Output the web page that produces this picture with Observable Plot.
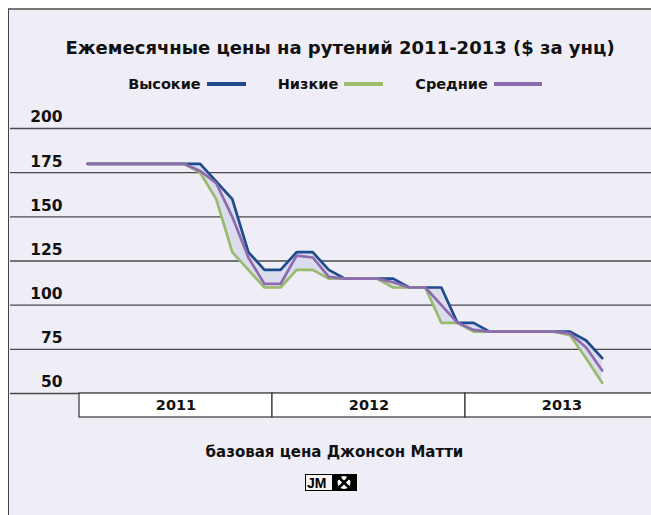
<!DOCTYPE html>
<html><head><meta charset="utf-8">
<script src="https://cdn.jsdelivr.net/npm/d3@7"></script>
<script src="https://cdn.jsdelivr.net/npm/@observablehq/plot@0.6"></script>
<style>
body{margin:0;background:#fff;}
#wrap{position:relative;width:651px;height:515px;overflow:hidden;background:#fff;font-family:"DejaVu Sans",sans-serif;font-weight:bold;color:#111;}
#frame{position:absolute;left:8px;top:8px;width:720px;height:600px;background:#efeef7;border-left:1.5px solid #444;border-top:2px solid #777;}
#title{position:absolute;top:37px;left:0;width:680px;text-align:center;font-size:18px;white-space:nowrap;}
#legend{position:absolute;top:76px;left:0;width:670px;display:flex;justify-content:center;align-items:center;font-size:14.5px;white-space:nowrap;}
#legend .sw{display:inline-block;width:39px;height:4px;margin-left:6px;margin-right:32px;}
#legend .sw.last{margin-right:0;width:48px;}
#chart{position:absolute;left:0;top:100px;}
#years{position:absolute;left:0;top:392px;}
#caption{position:absolute;top:443px;left:0;width:669px;text-align:center;font-size:15px;white-space:nowrap;}
#logo{position:absolute;left:305px;top:474px;width:52px;height:17px;}
</style></head>
<body>
<div id="wrap">
  <div id="frame"></div>
  <div id="title">Ежемесячные цены на рутений 2011-2013 ($ за унц)</div>
  <div id="legend"></div>
  <div id="chart"></div>
  <div id="years"></div>
  <div id="caption">базовая цена Джонсон Матти</div>
  <svg id="logo" width="52" height="17" viewBox="0 0 52 17">
    <rect x="0.5" y="0.5" width="51" height="16" fill="#f4f4f4" stroke="#000"/>
    <text x="2" y="13.5" font-family="Liberation Sans, Arial, sans-serif" font-size="14" fill="#000">JM</text>
    <rect x="27" y="0.5" width="24.5" height="16" fill="#000"/>
    <circle cx="39" cy="8.5" r="6.5" fill="#fff"/>
    <path d="M34.5 4 L43.5 13 M43.5 4 L34.5 13" stroke="#000" stroke-width="2.6"/>
    <path d="M33 5.5 L36 2.5 M42 2.5 L45 5.5" stroke="#000" stroke-width="2.2"/>
  </svg>
</div>
<script>
// Monthly ruthenium prices, Jan 2011 – Sep 2013 ($/oz)
const high = [180,180,180,180,180,180,180,180,170,160,130,120,
              120,130,130,120,115,115,115,115,110,110,110,90,
              90,85,85,85,85,85,85,80,70];
const low  = [180,180,180,180,180,180,180,175,160,130,120,110,
              110,120,120,115,115,115,115,110,110,110,90,90,
              85,85,85,85,85,85,83,70,56];
const mid  = [180,180,180,180,180,180,180,176,169,150,127,112,
              112,128,127,116,115,115,115,113,110,110,100,90,
              86,85,85,85,85,85,84,76,63];
const years = ["2011","2012","2013"];
const yTicks = [50,75,100,125,150,175,200];
const seriesNames = ["Высокие","Низкие","Средние"];
const colors = ["#1f4b8e","#9aba6c","#8c6cae"];

const data = high.map((h,i)=>({m:i+0.5, high:h, low:low[i], mid:mid[i]}));
const yearData = years.map((y,i)=>({year:y, start:i*12, end:i*12+12}));

// legend
const leg = document.getElementById("legend");
seriesNames.forEach((n,i)=>{
  const t=document.createElement("span"); t.textContent=n; leg.appendChild(t);
  const s=document.createElement("span"); s.className="sw"+(i===2?" last":""); s.style.background=colors[i]; leg.appendChild(s);
});

const xScale = {type:"linear", domain:[0,36], range:[79,658]};

const chart = Plot.plot({
  width:651, height:300, marginTop:28, marginBottom:7, marginLeft:10, marginRight:0,
  x: {...xScale, axis:null},
  y: {domain:[50,200], axis:null},
  marks:[
    Plot.ruleY(yTicks, {stroke:"#4a4a4a", strokeWidth:1.3}),
    Plot.areaY(data, {x:"m", y1:"low", y2:"high", fill:"#dcdcef"}),
    Plot.line(data, {x:"m", y:"high", stroke:colors[0], strokeWidth:2.7, strokeLinejoin:"miter"}),
    Plot.line(data, {x:"m", y:"low", stroke:colors[1], strokeWidth:2.7, strokeLinejoin:"miter"}),
    Plot.line(data, {x:"m", y:"mid", stroke:colors[2], strokeWidth:2.7, strokeLinejoin:"miter"}),
    Plot.text(yTicks, {y:d=>d, text:d=>String(d), frameAnchor:"left", dx:52, dy:-11, textAnchor:"end",
      fontSize:15.5, fontWeight:"bold", fill:"#111", fontFamily:"DejaVu Sans"})
  ],
  style:{background:"transparent", overflow:"visible"}
});
document.getElementById("chart").appendChild(chart);

const yrs = Plot.plot({
  width:651, height:26, marginTop:1, marginBottom:1, marginLeft:10, marginRight:0,
  x: {...xScale, axis:null},
  marks:[
    Plot.rect(yearData, {x1:"start", x2:"end", fill:"#fff", stroke:"#333", strokeWidth:1.2}),
    Plot.text(yearData, {x:d=>(d.start+d.end)/2, text:"year", frameAnchor:"middle", fontSize:14.5, fontWeight:"bold", fill:"#111", fontFamily:"DejaVu Sans"})
  ],
  style:{background:"transparent"}
});
document.getElementById("years").appendChild(yrs);
</script>
</body></html>
